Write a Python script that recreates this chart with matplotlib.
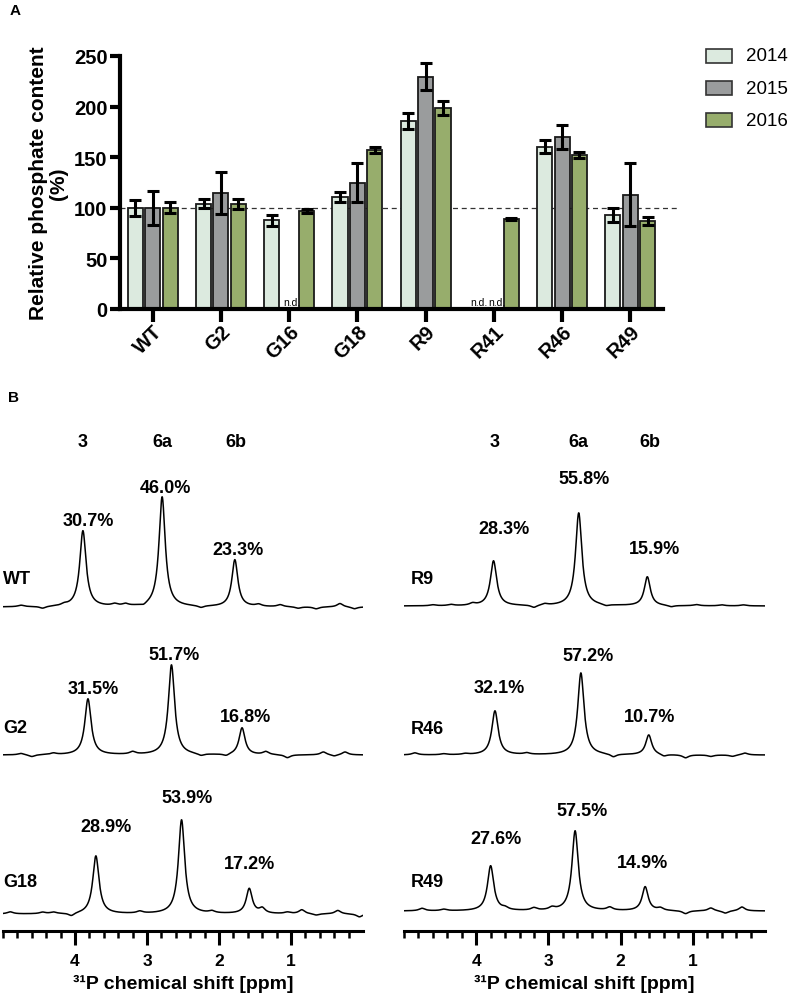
import numpy as np
import matplotlib
matplotlib.use("Agg")
import matplotlib.pyplot as plt
from matplotlib.patches import Rectangle

plt.rcParams['font.family'] = ['Liberation Sans', 'DejaVu Sans']

# ---------------- Panel A data ----------------
strains = ["WT", "G2", "G16", "G18", "R9", "R41", "R46", "R49"]
years = ["2014", "2015", "2016"]
year_colors = ["#dceadf", "#9a9c9d", "#97ad6c"]
val_2014 = [100, 104, 87.5, 111, 186, np.nan, 160.5, 93]
err_2014 = [8, 4.5, 5, 5, 8, np.nan, 6.5, 7]
val_2015 = [100, 114.5, np.nan, 125, 229.5, np.nan, 170, 113]
err_2015 = [17, 20.5, np.nan, 19.5, 13.5, np.nan, 12, 31]
val_2016 = [100, 104, 97, 157, 199, 89, 152.5, 87]
err_2016 = [5.5, 5, 2, 3, 7, 1, 3, 4]
reference_level = 100

# ---------------- Panel B data ----------------
# peak positions (ppm) and heights (arbitrary units) for peaks 3, 6a, 6b
peak_names = ["3", "6a", "6b"]
left_samples = ["WT", "G2", "G18"]
right_samples = ["R9", "R46", "R49"]
pos = {
    "WT": [3.89, 2.79, 1.78], "G2": [3.82, 2.66, 1.68], "G18": [3.71, 2.52, 1.58],
    "R9": [3.76, 2.58, 1.63], "R46": [3.74, 2.55, 1.61], "R49": [3.80, 2.63, 1.66],
}
height = {
    "WT": [76, 110, 47], "G2": [56, 90, 27], "G18": [58, 94, 25],
    "R9": [45, 93, 29], "R46": [44, 82, 20], "R49": [45, 80, 24],
}
pct = {
    "WT": ["30.7%", "46.0%", "23.3%"], "G2": ["31.5%", "51.7%", "16.8%"],
    "G18": ["28.9%", "53.9%", "17.2%"], "R9": ["28.3%", "55.8%", "15.9%"],
    "R46": ["32.1%", "57.2%", "10.7%"], "R49": ["27.6%", "57.5%", "14.9%"],
}
baseline = {"WT": 324, "G2": 176, "G18": 17, "R9": 325, "R46": 176, "R49": 20}
# small baseline features (ppm, amplitude)
bumps = {
    "WT": [(4.75, 1.5), (4.45, -2), (4.15, 1.5), (3.45, 2), (3.3, 2), (3.05, -2), (2.25, -2),
           (1.45, 2), (1.15, 2), (0.9, -1.5), (0.65, -2), (0.32, 3.5), (0.12, -2)],
    "G2": [(4.75, 1.5), (4.6, -2), (4.3, 1.5), (3.2, 2.5), (2.25, -2), (1.9, -2), (1.35, 3),
           (1.05, -3), (0.55, 3), (0.25, 3), (0.4, -1.5)],
    "G18": [(4.9, 2), (4.45, 1.5), (4.3, 1.5), (4.05, -3), (3.1, 2), (2.1, 2), (1.4, 5),
            (1.05, 1.5), (0.85, 4), (0.65, -1.5), (0.35, 3.5), (0.05, -3)],
    "R9": [(4.6, 1), (4.35, 1.2), (4.05, 2), (3.2, -2.5), (3.05, 1.5), (2.2, -1.5), (1.3, -1.5),
           (0.95, 1.2), (0.6, 1), (0.3, 1)],
    "R46": [(4.85, 2), (4.45, 1), (4.15, 1), (3.3, 1.5), (2.1, -3), (1.4, -2), (1.1, -3),
            (0.75, -1.5), (0.45, -1.5), (0.28, 2)],
    "R49": [(4.75, 2.5), (4.45, 1.5), (3.6, 2), (3.2, 2.5), (2.95, 2.5), (2.15, 3), (1.45, 2.5),
            (1.1, -3), (0.75, 3), (0.55, -2.5), (0.32, 4)],
}
peak_fwhm = [0.105, 0.105, 0.10]
header_pos = {"left": [3.90, 2.78, 1.76], "right": [3.75, 2.58, 1.60]}
label_pos = {
    "WT": [(3.82, 86), (2.74, 119), (1.73, 57)],
    "G2": [(3.74, 66), (2.62, 100), (1.63, 38)],
    "G18": [(3.57, 87), (2.45, 116), (1.57, 50)],
    "R9": [(3.62, 77), (2.50, 127), (1.53, 57)],
    "R46": [(3.68, 67), (2.45, 99), (1.60, 38)],
    "R49": [(3.72, 72), (2.53, 100), (1.70, 48)],
}
name_pos = {"WT": 352, "G2": 203, "G18": 49, "R9": 352, "R46": 202, "R49": 49}

W, H = 791, 1004
fig = plt.figure(figsize=(W / 100, H / 100), dpi=100)


def ax_rect(x0, y0, x1, y1):
    return [x0 / W, 1 - y1 / H, (x1 - x0) / W, (y1 - y0) / H]


# ---------------- Panel A ----------------
axA = fig.add_axes(ax_rect(120, 57, 663, 310))
x = np.arange(len(strains))
bw = 0.22
off = 0.255
vals = [val_2014, val_2015, val_2016]
errs = [err_2014, err_2015, err_2016]
for i in range(3):
    xi = x + (i - 1) * off
    v = np.array(vals[i], dtype=float)
    e = np.array(errs[i], dtype=float)
    m = ~np.isnan(v)
    axA.bar(xi[m], v[m], width=bw, color=year_colors[i], edgecolor="#1a1a1a",
            linewidth=1.3, zorder=2)
    axA.errorbar(xi[m], v[m], yerr=e[m], fmt="none", ecolor="black", elinewidth=2.2,
                 capsize=4.5, capthick=2.2, zorder=3)
    for xx in xi[~m]:
        axA.text(xx + 0.04, 2, "n.d.", ha="center", va="bottom", fontsize=7.5, zorder=4)

axA.plot([-0.48, 7.68], [reference_level, reference_level], ls=(0, (4, 3)), color="#333333",
         lw=0.9, clip_on=False, zorder=1)
axA.set_xlim(-0.48, 7.48)
axA.set_ylim(0, 250)
axA.set_yticks([0, 50, 100, 150, 200, 250])
axA.set_xticks(x)
axA.set_xticklabels(strains, rotation=45, ha="right", rotation_mode="anchor",
                    fontsize=14.5, fontweight="bold")
for lab in axA.get_yticklabels():
    lab.set_fontsize(14.5)
    lab.set_fontweight("bold")
for s in ["top", "right"]:
    axA.spines[s].set_visible(False)
for s in ["left", "bottom"]:
    axA.spines[s].set_linewidth(3)
axA.tick_params(axis="both", width=3, length=7, pad=2)
axA.tick_params(axis="x", length=9, pad=0)
axA.set_ylabel("Relative phosphate content\n(%)", fontsize=15, fontweight="bold",
               linespacing=1.1, labelpad=4)

# legend
for i, yr in enumerate(years):
    yc = 57 + 32 * i
    fig.patches.append(Rectangle((706 / W, 1 - (yc + 7) / H), 26 / W, 14 / H,
                                 transform=fig.transFigure, facecolor=year_colors[i],
                                 edgecolor="#333333", linewidth=1.2))
    fig.text(746 / W, 1 - yc / H, yr, fontsize=13.5, va="center", ha="left")

fig.text(10 / W, 1 - 11 / H, "A", fontsize=11, fontweight="bold", va="center")
fig.text(8 / W, 1 - 398 / H, "B", fontsize=11, fontweight="bold", va="center")

# ---------------- Panel B ----------------
ppm = np.linspace(5.0, 0.0, 2001)


def spectrum(name):
    y = np.full_like(ppm, baseline[name], dtype=float)
    for p, h, w in zip(pos[name], height[name], peak_fwhm):
        g = w / 2
        y += h * g ** 2 / ((ppm - p) ** 2 + g ** 2)
    for p, a in bumps[name]:
        g = 0.05
        y += a * g ** 2 / ((ppm - p) ** 2 + g ** 2)
    return y


for side, samples, (x0, x1) in [("left", left_samples, (3, 363)),
                                 ("right", right_samples, (404, 765))]:
    ax = fig.add_axes(ax_rect(x0, 420, x1, 932))
    ax.set_xlim(5.0, 0.0)
    ax.set_ylim(0, 512)
    for s in ["top", "right", "left"]:
        ax.spines[s].set_visible(False)
    ax.spines["bottom"].set_linewidth(2.2)
    ax.set_yticks([])
    ax.set_xticks([4, 3, 2, 1])
    ax.set_xticks(np.arange(0.2, 5.01, 0.2), minor=True)
    ax.tick_params(axis="x", which="major", width=2.2, length=10, pad=6)
    ax.tick_params(axis="x", which="minor", width=1.8, length=5)
    ax.set_xticklabels(["4", "3", "2", "1"], fontsize=12.5, fontweight="bold")
    ax.set_xlabel("³¹P chemical shift [ppm]", fontsize=14, fontweight="bold", labelpad=4)
    for hp, nm in zip(header_pos[side], peak_names):
        ax.text(hp, 489, nm, ha="center", va="center", fontsize=13, fontweight="bold")
    for nm in samples:
        ax.plot(ppm, spectrum(nm), color="black", lw=1.1)
        for (lx, ly), t in zip(label_pos[nm], pct[nm]):
            ax.text(lx, baseline[nm] + ly, t, ha="center", va="center", fontsize=13,
                    fontweight="bold")
        ax.text(4.9 if side == "right" else 5.0, name_pos[nm], nm, ha="left", va="center",
                fontsize=13, fontweight="bold")

fig.savefig("out.png", dpi=100)
